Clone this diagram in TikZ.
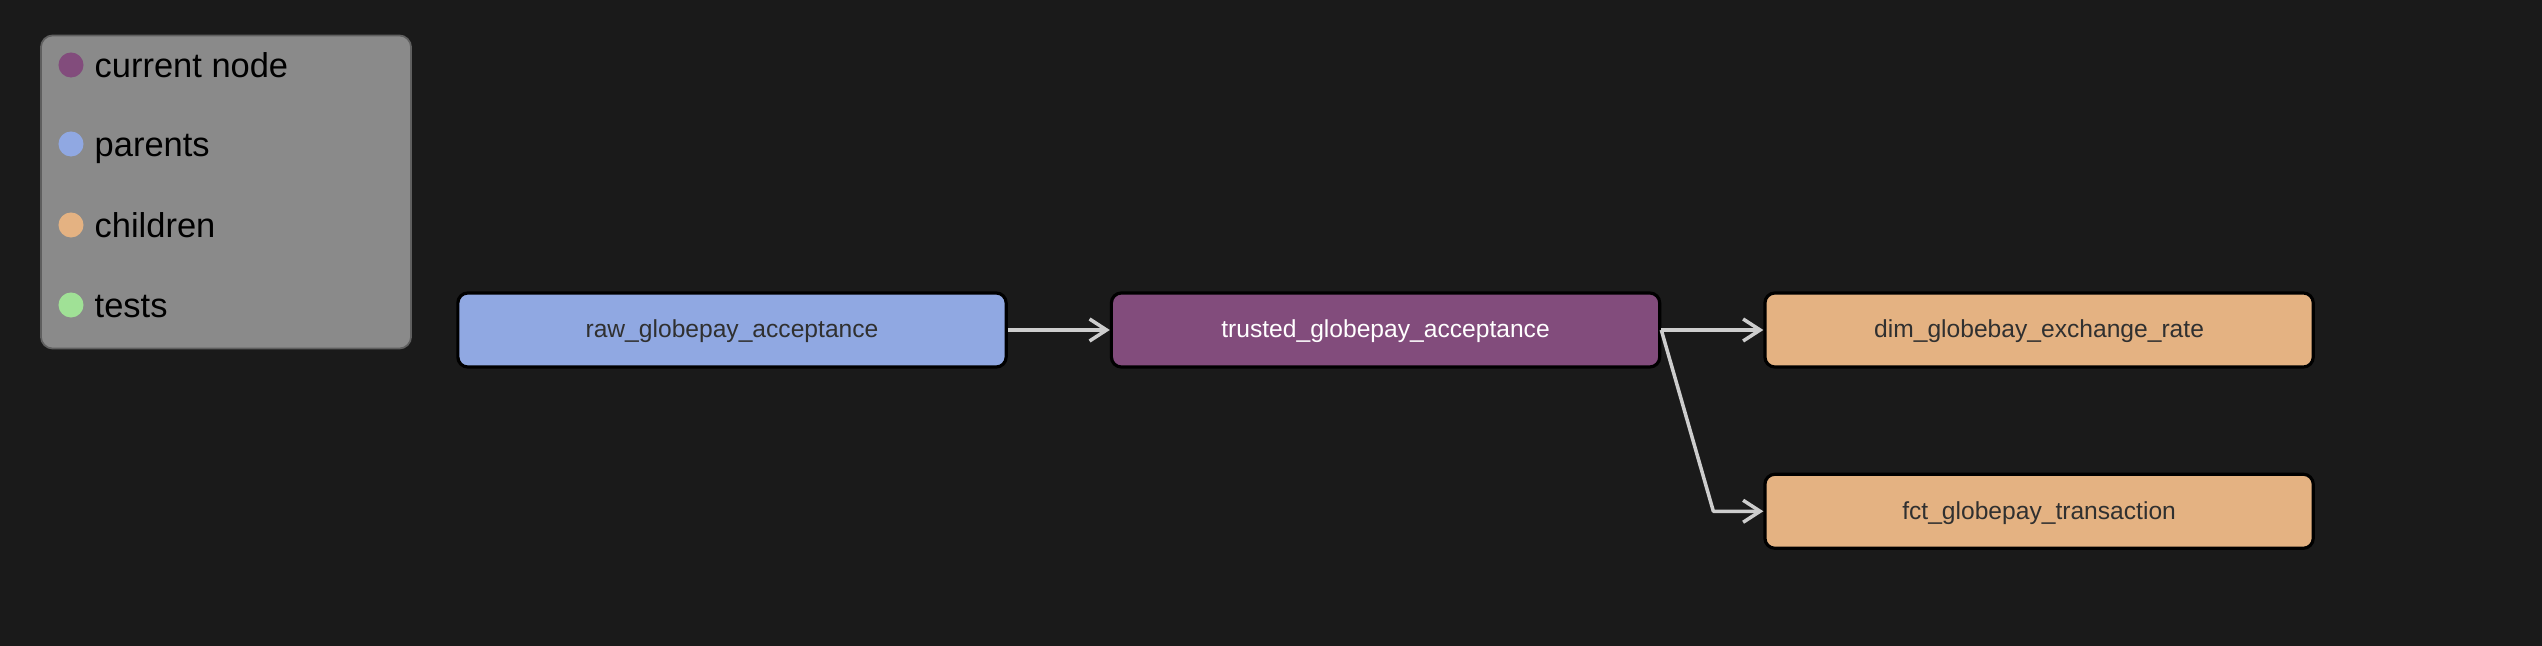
\documentclass[tikz,border=0pt]{standalone}
\usepackage{fontspec}
\setmainfont{Liberation Sans}
\usetikzlibrary{arrows.meta,positioning,calc}
\definecolor{bgdark}{RGB}{26,26,26}
\definecolor{legendgray}{RGB}{138,138,138}
\definecolor{legendedge}{RGB}{95,95,95}
\definecolor{currentpurple}{RGB}{130,76,124}
\definecolor{parentblue}{RGB}{144,168,226}
\definecolor{childorange}{RGB}{228,178,130}
\definecolor{testgreen}{RGB}{160,225,150}
\definecolor{edgegray}{RGB}{205,205,205}
\definecolor{labelgray}{RGB}{48,48,48}
\tikzset{
  model/.style={rectangle,rounded corners=0.1cm,draw=black,line width=0.9pt,
    minimum width=5.48cm,minimum height=0.74cm,inner sep=0pt,
    text height=5pt,text depth=0.6pt,
    font=\fontsize{7}{8}\selectfont,text=labelgray},
  parentmodel/.style={model,fill=parentblue},
  currentmodel/.style={model,fill=currentpurple,text=white},
  childmodel/.style={model,fill=childorange},
  link/.style={-{Straight Barb[length=1.7mm,width=2.2mm]},line width=1pt,
    draw=edgegray,line join=round},
  legendbox/.style={rectangle,rounded corners=0.12cm,draw=legendedge,line width=0.5pt,
    fill=legendgray,minimum width=3.7cm,minimum height=3.13cm,inner sep=0pt},
  keydot/.style={circle,inner sep=0pt,minimum size=0.25cm},
  keytext/.style={font=\fontsize{9.8}{11}\selectfont,text=black,inner sep=0pt,anchor=base west}
}

\begin{document}
\begin{tikzpicture}[x=0.01cm,y=-0.01cm]
  \fill[bgdark] (0,0) rectangle (2542,646);
  \useasboundingbox (0,0) rectangle (2542,646);

  % legend
  \node[legendbox] (legend) at (226,192) {};
  \foreach \y/\col/\lab [count=\i] in {65/currentpurple/current node,
                                       144/parentblue/parents,
                                       225/childorange/children,
                                       305/testgreen/tests}{
    \node[keydot,fill=\col] (dot\i) at (71,\y) {};
    \node[keytext] (key\i) at (94,\y+13) {\lab};
  }

  % lineage
  \node[parentmodel] (raw) at (732,330) {raw\_globepay\_acceptance};
  \node[currentmodel,right=1.02cm of raw] (trusted) {trusted\_globepay\_acceptance};
  \node[childmodel,right=1.02cm of trusted] (dim) {dim\_globebay\_exchange\_rate};
  \node[childmodel,below=1.04cm of dim] (fct) {fct\_globepay\_transaction};

  \draw[link] (raw) -- (trusted);
  \draw[link] (trusted.east) -- (dim.west);
  \draw[link] (trusted.east) -- ($(fct.west)+(-50,0)$) -- (fct.west);
\end{tikzpicture}
\end{document}
